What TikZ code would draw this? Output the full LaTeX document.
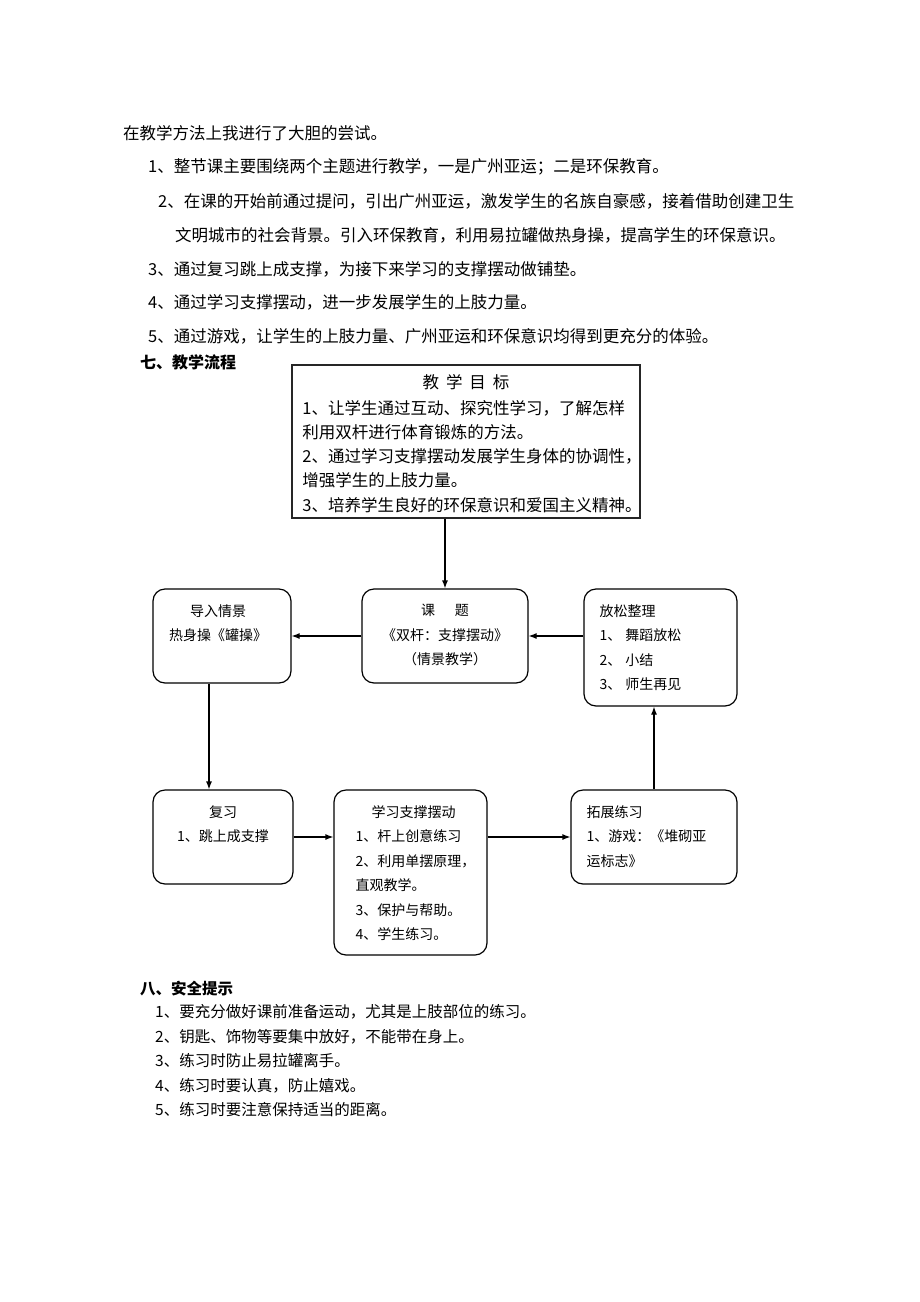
\documentclass[tikz,border=0pt]{standalone}
\usepackage{fontspec}
\newfontfamily\cjk{Noto Sans CJK SC}
\usetikzlibrary{arrows.meta,positioning}

\tikzset{
  txt/.style={anchor=west,inner sep=0pt,font=\cjk\fontsize{16.5}{20}\selectfont},
  head/.style={anchor=west,inner sep=0pt,font=\cjk\bfseries\fontsize{16}{20}\selectfont},
  tip/.style={anchor=west,inner sep=0pt,font=\cjk\fontsize{15.5}{20}\selectfont},
  goalbox/.style={draw=black!85,line width=1.5pt,inner sep=0pt},
  flow/.style={draw,rounded corners=12pt,line width=1.2pt,inner sep=0pt},
  btxt/.style={inner sep=0pt,font=\cjk\fontsize{14}{24.5}\selectfont},
  arr/.style={-{Latex[length=8pt,width=6pt]},line width=1.2pt}
}

\begin{document}
\begin{tikzpicture}[x=1pt,y=-1pt]
     \useasboundingbox (0,0) rectangle (920,1302);
     \node[txt] (p0) at (123,133) {在教学方法上我进行了大胆的尝试。};
     \node[txt] (p1) at (148,167) {1、整节课主要围绕两个主题进行教学，一是广州亚运；二是环保教育。};
     \node[txt] (p2) at (158,201) {2、在课的开始前通过提问，引出广州亚运，激发学生的名族自豪感，接着借助创建卫生};
     \node[txt] (p2b) at (175,235) {文明城市的社会背景。引入环保教育，利用易拉罐做热身操，提高学生的环保意识。};
     \node[txt] (p3) at (148,269) {3、通过复习跳上成支撑，为接下来学习的支撑摆动做铺垫。};
     \node[txt] (p4) at (148,302) {4、通过学习支撑摆动，进一步发展学生的上肢力量。};
     \node[txt] (p5) at (148,336) {5、通过游戏，让学生的上肢力量、广州亚运和环保意识均得到更充分的体验。};
     \node[head] (h7) at (140,362) {七、教学流程};

     \node[goalbox,minimum width=348pt,minimum height=153pt] (mubiao) at (466,441.5) {};
     \node[btxt,font=\cjk\fontsize{16.5}{20}\selectfont] (mbtitle) at (466,382)
          {教\hspace{7pt}学\hspace{7pt}目\hspace{7pt}标};
     \node[btxt,font=\cjk\fontsize{16.5}{24.3}\selectfont,align=left,anchor=north west,
           below right=35.6pt and 11pt of mubiao.north west] (mbtext)
          {1、让学生通过互动、探究性学习，了解怎样\\利用双杆进行体育锻炼的方法。\\
           2、通过学习支撑摆动发展学生身体的协调性，\\增强学生的上肢力量。\\
           3、培养学生良好的环保意识和爱国主义精神。};

     \node[flow,minimum width=138pt,minimum height=94pt] (daoru) at (222,636) {};
     \node[flow,minimum width=166pt,minimum height=94pt] (keti) at (445,636) {};
     \node[flow,minimum width=153pt,minimum height=117pt] (fangsong) at (660.5,647.5) {};
     \node[flow,minimum width=140pt,minimum height=94pt] (fuxi) at (223,837) {};
     \node[flow,minimum width=153pt,minimum height=165pt] (xuexi) at (410.5,872.5) {};
     \node[flow,minimum width=166pt,minimum height=94pt] (tuozhan) at (654,837) {};

     \node[btxt,align=center,below=15.7pt of daoru.north,xshift=-4pt] (daorutxt)
          {导入情景\\热身操《罐操》};
     \node[btxt,align=center,below=15.7pt of keti.north] (ketitxt)
          {课\hspace{20pt}题\\《双杆：支撑摆动》\\（情景教学）};
     \node[btxt,align=left,below right=15.7pt and 16pt of fangsong.north west] (fangsongtxt)
          {放松整理\\1、\hspace{4pt}舞蹈放松\\2、\hspace{4pt}小结\\3、\hspace{4pt}师生再见};
     \node[btxt,align=center,below=15.7pt of fuxi.north] (fuxitxt)
          {复习\\1、跳上成支撑};
     \node[btxt,align=left,below right=15.7pt and 22pt of xuexi.north west] (xuexitxt)
          {\hspace{16pt}学习支撑摆动\\1、杆上创意练习\\2、利用单摆原理，\\直观教学。\\3、保护与帮助。\\4、学生练习。};
     \node[btxt,align=left,below right=15.7pt and 16pt of tuozhan.north west] (tuozhantxt)
          {拓展练习\\1、游戏：《堆砌亚\\运标志》};

     \draw[arr] (keti.north |- mubiao.south) -- (keti.north);
     \draw[arr] (keti.west) -- (daoru.east);
     \draw[arr] (fangsong.west |- keti.west) -- (keti.east);
     \draw[arr] ([xshift=-13pt]daoru.south) -- ([xshift=-14pt]fuxi.north);
     \draw[arr] (fuxi.east) -- (xuexi.west |- fuxi.east);
     \draw[arr] (xuexi.east |- fuxi.east) -- (tuozhan.west);
     \draw[arr] (tuozhan.north) -- (tuozhan.north |- fangsong.south);

     \node[head,font=\cjk\bfseries\fontsize{15.5}{20}\selectfont] (h8) at (140,989) {八、安全提示};
     \node[tip] (t1) at (155,1012) {1、要充分做好课前准备运动，尤其是上肢部位的练习。};
     \node[tip] (t2) at (155,1037) {2、钥匙、饰物等要集中放好，不能带在身上。};
     \node[tip] (t3) at (155,1061) {3、练习时防止易拉罐离手。};
     \node[tip] (t4) at (155,1086) {4、练习时要认真，防止嬉戏。};
     \node[tip] (t5) at (155,1110) {5、练习时要注意保持适当的距离。};
\end{tikzpicture}
\end{document}
